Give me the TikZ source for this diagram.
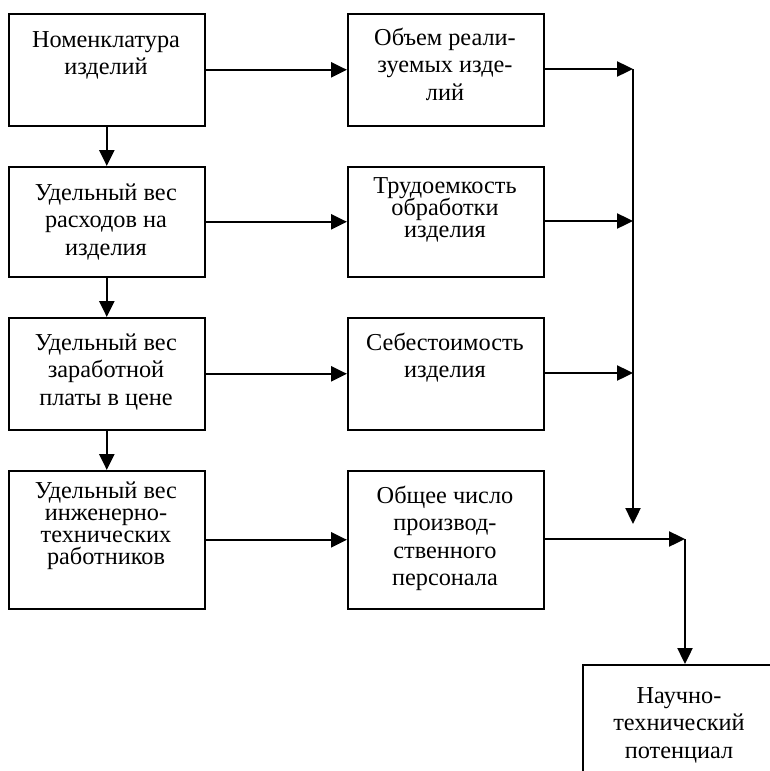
\documentclass[tikz,border=0pt]{standalone}
\usepackage{fontspec}
\setmainfont{Liberation Serif}
\usetikzlibrary{arrows.meta}
\newcommand{\ml}[1]{\vtop{\lineskiplimit=-100pt\lineskip=0pt\def\\{\cr}\halign{\hfil##\hfil\cr#1\crcr}}}
\begin{document}
\begin{tikzpicture}[x=1pt,y=-1pt,
  box/.style={draw, line width=1.6pt, anchor=north west, minimum width=196pt, inner sep=0pt},
  txt/.style={anchor=base, inner sep=0pt, font=\fontsize{24.3}{27.5}\selectfont},
  tight/.style={anchor=base, inner sep=0pt, font=\fontsize{24.3}{22.3}\selectfont},
  arr/.style={line width=2.4pt, -{Triangle[length=16pt,width=15pt]}},
  ln/.style={line width=2.4pt}]
\useasboundingbox (0,0) rectangle (770,771);
% boxes
\node[box, minimum height=112pt] (L1) at (8,13) {};
\node[box, minimum height=110pt] (L2) at (8,166) {};
\node[box, minimum height=112pt] (L3) at (8,317) {};
\node[box, minimum height=138pt] (L4) at (8,470) {};
\node[box, minimum height=112pt] (R1) at (347,13) {};
\node[box, minimum height=110pt] (R2) at (347,166) {};
\node[box, minimum height=112pt] (R3) at (347,317) {};
\node[box, minimum height=138pt] (R4) at (347,470) {};
\node[box, minimum width=200pt, minimum height=140pt] (F) at (582,664) {};
% texts
\node[txt] (tL1) at (106,47) {\ml{Номенклатура\\изделий}};
\node[txt] (tL2) at (106,200) {\ml{Удельный вес\\расходов на\\изделия}};
\node[txt] (tL3) at (106,350) {\ml{Удельный вес\\заработной\\платы в цене}};
\node[tight] (tL4) at (106,498) {\ml{Удельный вес\\инженерно-\\технических\\работников}};
\node[txt] (tR1) at (445,45) {\ml{Объем реали-\\зуемых изде-\\лий}};
\node[tight] (tR2) at (445,193) {\ml{Трудоемкость\\обработки\\изделия}};
\node[txt] (tR3) at (445,350) {\ml{Себестоимость\\изделия}};
\node[txt] (tR4) at (445,503) {\ml{Общее число\\производ-\\ственного\\персонала}};
\node[txt] (tF) at (679,703) {\ml{Научно-\\технический\\потенциал}};
% bus coordinates
\coordinate (b1) at (633,69);
\coordinate (b2) at (633,221);
\coordinate (b3) at (633,373);
\coordinate (b4) at (633,524);
\coordinate (c4) at (685,539);
% connectors
\draw[arr] (L1) -- (L2);
\draw[arr] (L2) -- (L3);
\draw[arr] (L3) -- (L4);
\draw[arr] (L1) -- (R1);
\draw[arr] (L2) -- (R2);
\draw[arr] (L3) -- (R3);
\draw[arr] (L4) -- (R4);
\draw[arr] (R1.east |- b1) -- (b1);
\draw[arr] (R2.east |- b2) -- (b2);
\draw[arr] (R3.east |- b3) -- (b3);
\draw[arr] (b1) -- (b4);
\draw[arr] (R4.east |- c4) -- (c4);
\draw[arr] (c4) -- (c4 |- F.north);
\end{tikzpicture}
\end{document}
